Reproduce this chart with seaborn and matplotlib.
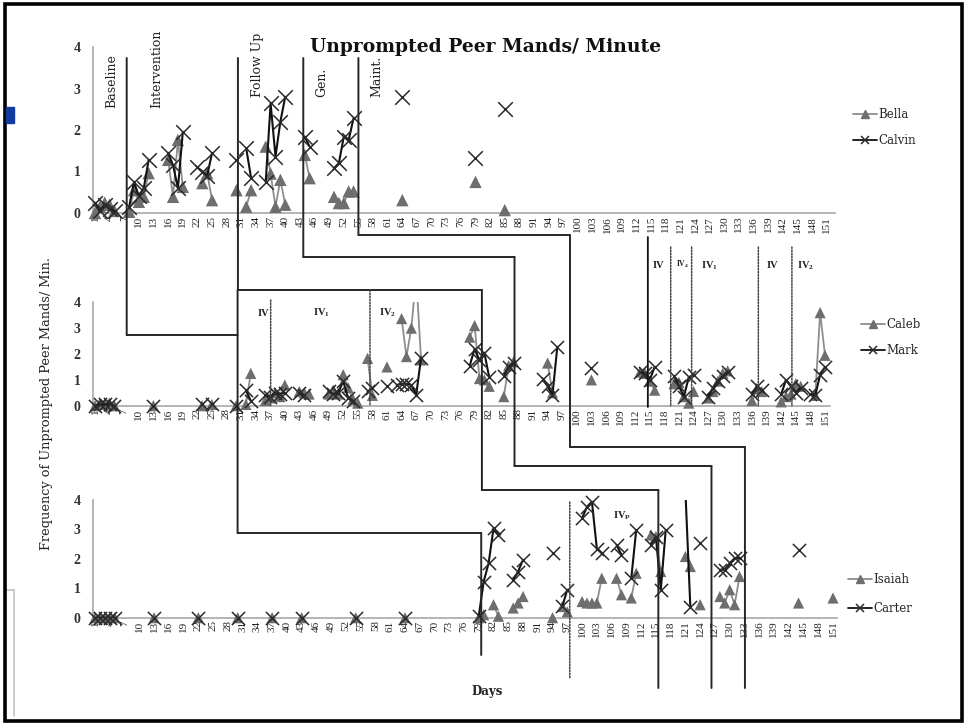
import numpy as np
import pandas as pd
import matplotlib
matplotlib.use("Agg")
import matplotlib.pyplot as plt
import seaborn as sns
from matplotlib.lines import Line2D
from matplotlib.patches import ConnectionPatch, Rectangle
from matplotlib.transforms import blended_transform_factory

# ---------------- data ----------------
tick_days = list(range(1, 152, 3))

bella_days = [1,2,3,4,5,8,9,10,11,12,16,17,18,19,23,24,25,30,32,33,36,37,38,39,40,44,45,50,51,52,53,54,64,79,85]
bella_vals = [0.0,0.15,0.25,0.2,0.05,0.03,0.55,0.27,0.39,0.96,1.28,0.39,1.76,0.63,0.72,0.96,0.31,0.55,0.15,0.55,
              1.6,0.95,0.15,0.8,0.2,1.4,0.84,0.39,0.24,0.24,0.52,0.52,0.31,0.75,0.07]
calvin_days = [1,2,3,4,5,8,9,10,11,12,16,17,18,19,22,23,24,25,30,32,33,36,37,38,39,40,44,45,50,51,52,53,54,64,79,85]
calvin_vals = [0.25,0.05,0.2,0.1,0.05,0.15,0.75,0.4,0.6,1.28,1.45,1.15,0.6,1.95,1.1,1.0,0.9,1.45,1.28,1.56,0.84,
               0.75,2.64,1.36,2.2,2.8,1.84,1.6,1.08,1.2,1.84,1.76,2.28,2.8,1.33,2.5]

caleb_days = [1,2,3,4,5,13,23,25,30,32,33,36,37,38,39,40,43,44,45,49,50,51,52,53,54,55,57,58,61,64,65,66,67,68,
              78,79,80,81,82,85,86,87,94,95,103,113,114,115,116,120,121,122,123,124,127,128,129,130,131,
              136,137,138,142,143,144,145,146,149,150,151]
caleb_vals = [0.0,0.1,0.05,0.1,0.0,0.0,0.0,0.05,0.0,0.05,1.25,0.2,0.3,0.5,0.35,0.8,0.55,0.5,0.45,0.45,0.6,0.45,
              1.2,0.7,0.25,0.1,1.83,0.4,1.5,3.37,1.9,3.0,5.0,1.77,2.65,3.1,1.05,1.0,0.75,0.35,1.55,1.7,1.65,0.5,
              1.0,1.3,1.25,0.95,0.6,0.85,0.9,0.35,0.1,0.55,0.3,0.55,0.95,1.25,1.35,0.2,0.65,0.55,0.15,0.35,
              0.45,0.85,0.75,0.4,3.6,1.95]
mark_days = [1,2,3,4,5,13,23,25,30,32,33,36,37,38,39,40,43,44,49,50,51,52,53,54,57,58,61,63,64,65,66,67,68,
             78,79,80,81,82,85,86,87,93,94,95,96,103,113,114,115,116,120,121,122,123,124,127,128,129,130,131,
             136,137,138,142,143,144,145,146,148,149,150,151]
mark_vals = [0.0,0.05,0.05,0.05,0.0,0.0,0.05,0.05,0.0,0.6,0.2,0.4,0.35,0.5,0.45,0.5,0.5,0.4,0.55,0.45,0.5,0.95,
             0.3,0.2,0.55,0.68,0.75,0.8,0.85,0.85,0.8,0.42,1.85,1.55,2.2,1.75,2.05,1.1,1.15,1.5,1.65,1.05,0.75,
             0.42,2.28,1.45,1.3,1.25,1.0,1.5,1.15,0.75,0.35,1.1,1.2,0.35,0.7,0.95,1.15,1.3,0.45,0.75,0.6,0.45,
             1.0,0.75,0.5,0.7,0.45,0.4,1.2,1.5]

isaiah_days = [1,2,3,4,5,13,22,30,37,43,54,64,79,80,82,83,86,87,88,94,96,97,100,101,102,103,104,107,108,110,111,
               114,115,116,121,122,124,128,129,130,131,132,144,151]
isaiah_vals = [0,0,0,0,0,0,0,0,0,0,0,0,0.0,0.1,0.44,0.05,0.33,0.5,0.72,0.0,0.38,0.2,0.55,0.5,0.5,0.5,1.34,1.34,
               0.78,0.67,1.51,2.81,2.76,1.57,2.08,1.74,0.44,0.72,0.5,0.95,0.44,1.4,0.5,0.67]
carter_days = [1,2,3,4,5,13,22,30,37,43,54,64,79,80,81,82,83,86,87,88,94,96,97,100,101,102,103,104,107,108,110,
               111,114,115,116,117,121,122,124,128,129,130,131,132,144]
carter_vals = [0,0,0,0,0,0,0,0,0,0,0,0,0.05,1.23,1.85,3.04,2.81,1.29,1.57,1.97,2.19,0.4,0.95,3.38,3.77,3.94,2.35,
               2.2,2.47,2.14,1.34,2.98,2.47,2.75,0.95,2.98,4.3,0.38,2.53,1.63,1.63,1.85,2.02,2.02,2.3]

# phase-change days of the staircase lines (top / middle / bottom panel)
stair_top = [7.5, 30.3, 43.7, 55.0]
stair_mid = [30.3, 80.5, 87.2, 98.6]
stair_bot = [79.5, 115.5, 126.3, 133.1]
extra_mid_line = [114.6]
dotted_mid = [37.1, 57.5, 119.3, 123.6, 137.3, 144.2]
dotted_bot = [97.5]

phase_labels = ["Baseline", "Intervention", "Follow Up", "Gen.", "Maint."]

# ---------------- style ----------------
sns.set_style("white")
plt.rcParams["font.family"] = ["DejaVu Serif"]
SERIF2 = "Liberation Serif"

W, H = 967, 724
fig = plt.figure(figsize=(W / 100, H / 100), dpi=100)
fig.patch.set_facecolor("white")


def make_ax(left_px, right_px, y0_px, y4_px, d1_px, d151_px):
    k = (d151_px - d1_px) / 150.0
    ax = fig.add_axes([left_px / W, 1 - y0_px / H, (right_px - left_px) / W, (y0_px - y4_px) / H])
    ax.set_xlim(1 - (d1_px - left_px) / k, 151 + (right_px - d151_px) / k)
    ax.set_ylim(0, 4)
    ax.patch.set_alpha(0)
    return ax


ax_top = make_ax(93, 835, 213, 47, 95, 826.7)
ax_mid = make_ax(93, 830, 405.7, 302.3, 95, 825)
ax_bot = make_ax(93, 837, 617.7, 500, 95, 833)

TRI_C = "#6e6e6e"
TRI_LINE = "#8e8e8e"
X_C = "#2a2a2a"


def panel(ax, da, va, db, vb, tri_s, x_s):
    for days, vals, kind in ((da, va, "tri"), (db, vb, "x")):
        df = pd.DataFrame({"day": days, "val": vals})
        df["seg"] = (df["day"].diff() != 1).cumsum()
        if kind == "tri":
            sns.lineplot(data=df, x="day", y="val", units="seg", estimator=None, color=TRI_LINE,
                         linewidth=1.3, ax=ax, legend=False, zorder=2)
        else:
            sns.lineplot(data=df, x="day", y="val", units="seg", estimator=None, color="#111111",
                         linewidth=1.5, ax=ax, legend=False, zorder=4)
        pts = df[df["val"] <= 4]
        if kind == "tri":
            sns.scatterplot(data=pts, x="day", y="val", marker="^", color=TRI_C, s=tri_s,
                            edgecolor="none", linewidth=0, ax=ax, legend=False, clip_on=False, zorder=3)
        else:
            sns.scatterplot(data=pts, x="day", y="val", marker="x", color=X_C, s=x_s,
                            linewidth=1.1, ax=ax, legend=False, clip_on=False, zorder=5)
    ax.set_xlabel("")
    ax.set_ylabel("")
    ax.set_xticks(tick_days)
    ax.set_xticklabels([str(t) for t in tick_days], rotation=90, fontsize=8, fontfamily=SERIF2, color="#222222")
    ax.set_yticks([0, 1, 2, 3, 4])
    ax.set_yticklabels(["0", "1", "2", "3", "4"], fontsize=10, fontweight="bold", fontfamily=SERIF2,
                       color="#333333")
    ax.tick_params(axis="x", length=0, pad=2)
    ax.tick_params(axis="y", length=0, pad=9)
    sns.despine(ax=ax)
    for sp in ("left", "bottom"):
        ax.spines[sp].set_color("#a8a8a8")
        ax.spines[sp].set_linewidth(1.2)


panel(ax_top, bella_days, bella_vals, calvin_days, calvin_vals, 80, 110)
panel(ax_mid, caleb_days, caleb_vals, mark_days, mark_vals, 65, 90)
panel(ax_bot, isaiah_days, isaiah_vals, carter_days, carter_vals, 65, 90)


# ---------------- staircase phase lines ----------------
def seg(axA, xA, yA, axB, xB, yB, color="#262626", lw=1.4, ls="-"):
    tA = blended_transform_factory(axA.transData, fig.transFigure)
    tB = blended_transform_factory(axB.transData, fig.transFigure)
    cp = ConnectionPatch((xA, 1 - yA / H), (xB, 1 - yB / H), coordsA=tA, coordsB=tB,
                         arrowstyle="-", shrinkA=0, shrinkB=0, color=color, lw=lw, linestyle=ls, zorder=6)
    fig.add_artist(cp)


y_start = 58
y_h1 = [335, 290, 257, 235]
y_mid_from = [290, 290, 257, 235]
y_h2 = [533, 490, 466, 447]
y_end = [655, 688, 688, 688]
for i in range(4):
    t, m, b = stair_top[i], stair_mid[i], stair_bot[i]
    seg(ax_top, t, y_start, ax_top, t, y_h1[i])
    seg(ax_top, t, y_h1[i], ax_mid, m, y_h1[i])
    seg(ax_mid, m, y_mid_from[i], ax_mid, m, y_h2[i])
    seg(ax_mid, m, y_h2[i], ax_bot, b, y_h2[i])
    seg(ax_bot, b, y_h2[i], ax_bot, b, y_end[i])

for d in extra_mid_line:
    seg(ax_mid, d, 237, ax_mid, d, 407, color="#111111", lw=1.3)

dotted_tops = [300, 290, 247, 247, 247, 247]
for d, yt in zip(dotted_mid, dotted_tops):
    seg(ax_mid, d, yt, ax_mid, d, 406, color="#444444", lw=1.1, ls=(0, (1, 1)))
for d in dotted_bot:
    seg(ax_bot, d, 502, ax_bot, d, 678, color="#444444", lw=1.1, ls=(0, (1, 1)))

# ---------------- texts ----------------
fig.text(486 / W, 1 - 47 / H, "Unprompted Peer Mands/ Minute", ha="center", va="center",
         fontsize=13.5, fontweight="bold", color="#111111")
fig.text(47 / W, 1 - 403 / H, "Frequency of Unprompted Peer Mands/ Min.", rotation=90,
         ha="center", va="center", fontsize=9.3, color="#222222")
fig.text(487 / W, 1 - 692 / H, "Days", ha="center", va="center", fontsize=8.5, fontweight="bold",
         color="#222222")

phase_x = [112, 157, 257, 322, 377]
phase_y = [108, 108, 97, 97, 97]
for s, px, py in zip(phase_labels, phase_x, phase_y):
    fig.text(px / W, 1 - py / H, s, rotation=90, ha="center", va="bottom", fontsize=9, color="#222222")

iv_texts = [("IV", 263, 313, 7.5), (r"IV$_\mathregular{1}$", 321, 313, 7.5), (r"IV$_\mathregular{2}$", 388, 313, 7.5),
            ("IV", 658, 266, 7.5), (r"IV$_\mathregular{4}$", 683, 264, 5.5), (r"IV$_\mathregular{1}$", 709, 266, 7.5),
            ("IV", 772, 266, 7.5), (r"IV$_\mathregular{2}$", 806, 266, 7.5), (r"IV$_\mathregular{P}$", 622, 516, 7.5)]
for s, px, py, fs in iv_texts:
    fig.text(px / W, 1 - py / H, s, ha="center", va="center", fontsize=fs, fontweight="bold",
             fontfamily=SERIF2, color="#222222")

# ---------------- legends ----------------
def add_legend(names, x_px, yc_px, spacing):
    h1 = Line2D([], [], color=TRI_LINE, lw=1.3, marker="^", ms=5.5, mfc=TRI_C, mec=TRI_C)
    h2 = Line2D([], [], color="#111111", lw=1.3, marker="x", ms=6, mew=1.1, mec=X_C)
    fig.legend([h1, h2], names, loc="center left", bbox_to_anchor=(x_px / W, 1 - yc_px / H),
               frameon=False, fontsize=8.5, handlelength=2.0, handletextpad=0.15,
               labelspacing=spacing, borderpad=0, borderaxespad=0)


add_legend(["Bella", "Calvin"], 853, 127.5, 1.15)
add_legend(["Caleb", "Mark"], 861, 337.5, 1.15)
add_legend(["Isaiah", "Carter"], 848, 594, 1.4)

# ---------------- frame decorations ----------------
fig.add_artist(Rectangle((4.5 / W, 1 - 721 / H), (962 - 4.5) / W, (721 - 4) / H, transform=fig.transFigure,
                         fill=False, lw=2.6, ec="black", zorder=10))
fig.add_artist(Rectangle((6 / W, 1 - 123 / H), 8 / W, 16 / H, transform=fig.transFigure,
                         color="#0f3c9e", zorder=10))
fig.add_artist(Line2D([14 / W, 14 / W], [1 - 590 / H, 1 - 716 / H], transform=fig.transFigure,
                      color="#c4c4c4", lw=1.2))
fig.add_artist(Line2D([5 / W, 14 / W], [1 - 590 / H, 1 - 590 / H], transform=fig.transFigure,
                      color="#c4c4c4", lw=1.2))

fig.savefig("out.png", dpi=100, facecolor="white")
